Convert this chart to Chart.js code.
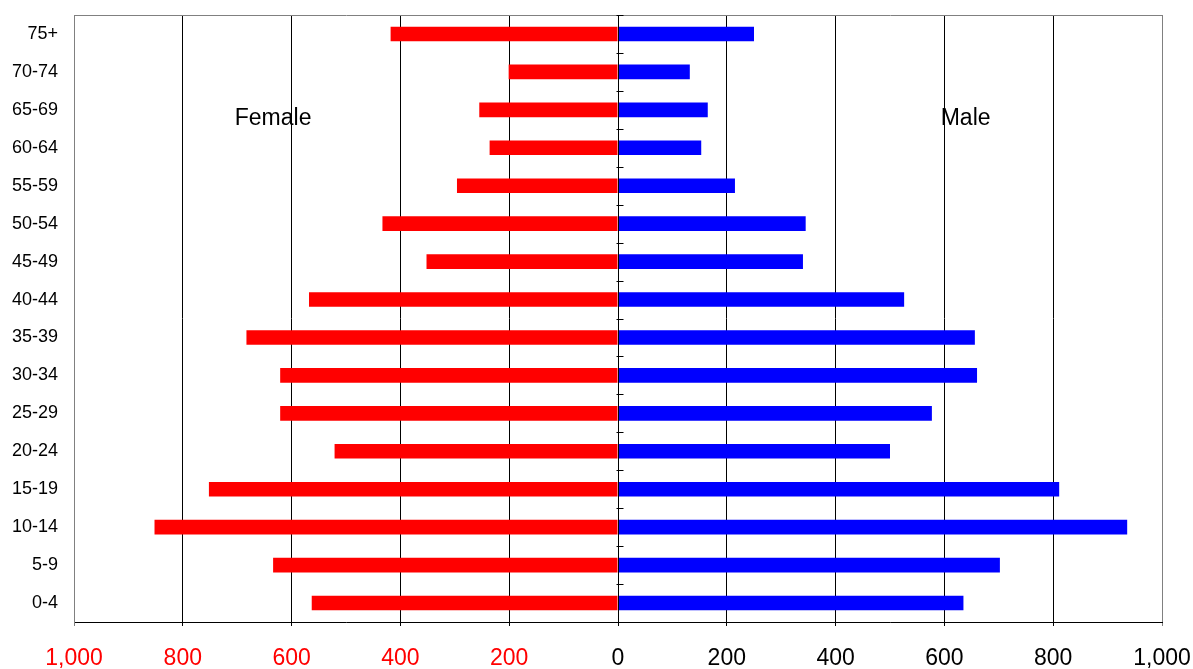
<!DOCTYPE html>
<html>
<head>
<meta charset="utf-8">
<title>Population pyramid</title>
<script src="https://cdn.jsdelivr.net/npm/chart.js@4/dist/chart.umd.min.js"></script>
<style>
  html, body { margin: 0; padding: 0; background: #ffffff; }
  #wrap { width: 1193px; height: 669px; position: relative; }
</style>
</head>
<body>
<div id="wrap"><canvas id="pyramid" width="1193" height="669"></canvas></div>
<script>
// Age groups, youngest first (drawn bottom to top)
const ageGroups = ['0-4', '5-9', '10-14', '15-19', '20-24', '25-29', '30-34', '35-39',
                   '40-44', '45-49', '50-54', '55-59', '60-64', '65-69', '70-74', '75+'];

// Population counts per age group
const female = [563, 634, 852, 752, 521, 621, 621, 683, 568, 352, 433, 296, 236, 255, 201, 418];
const male   = [635, 702, 936, 811, 500, 577, 660, 656, 526, 340, 345, 215, 153, 165, 132, 250];

// Axis range and tick step for the horizontal scale
const axisMax = 1000;
const axisStep = 200;

const FONT = '"Liberation Sans", Arial, sans-serif';
const BORDER_GREY = '#808080';

// Frame, centre-axis tick marks and the side captions
const pyramidDecor = {
  id: 'pyramidDecor',
  beforeDatasetsDraw(chart) {
    const { ctx, chartArea: a } = chart;
    ctx.save();
    ctx.strokeStyle = BORDER_GREY;
    ctx.lineWidth = 1;
    ctx.beginPath();
    ctx.moveTo(Math.round(a.left) + 0.5, Math.round(a.bottom));
    ctx.lineTo(Math.round(a.left) + 0.5, Math.round(a.top) + 0.5);
    ctx.lineTo(Math.round(a.right) + 0.5, Math.round(a.top) + 0.5);
    ctx.lineTo(Math.round(a.right) + 0.5, Math.round(a.bottom));
    ctx.stroke();
    ctx.restore();
  },
  afterDatasetsDraw(chart) {
    const { ctx } = chart;
    const xs = chart.scales.x, ys = chart.scales.y;
    const x0 = Math.round(xs.getPixelForValue(0)) + 0.5;
    ctx.save();
    // zero axis line
    ctx.strokeStyle = '#000000';
    ctx.lineWidth = 1;
    ctx.beginPath();
    ctx.moveTo(x0, ys.top);
    ctx.lineTo(x0, ys.bottom);
    ctx.stroke();
    // tick marks between age groups on the centre axis
    ctx.beginPath();
    for (let i = 0; i <= ageGroups.length; i++) {
      const y = Math.round(ys.getPixelForValue(i - 0.5)) + 0.5;
      ctx.moveTo(x0 - 2, y);
      ctx.lineTo(x0 + 5, y);
    }
    ctx.stroke();
    // side captions
    ctx.fillStyle = '#000000';
    ctx.font = '23px ' + FONT;
    ctx.textAlign = 'center';
    ctx.textBaseline = 'middle';
    const yCap = ys.getPixelForValue(12.78);
    ctx.fillText('Female', xs.getPixelForValue(-634), yCap);
    ctx.fillText('Male', xs.getPixelForValue(639), yCap);
    ctx.restore();
  }
};

new Chart(document.getElementById('pyramid'), {
  type: 'bar',
  data: {
    labels: ageGroups,
    datasets: [
      {
        label: 'Female',
        data: female.map(v => -v),
        backgroundColor: '#FF0000',
        borderWidth: 0,
        categoryPercentage: 1,
        barPercentage: 0.385
      },
      {
        label: 'Male',
        data: male,
        backgroundColor: '#0000FF',
        borderWidth: 0,
        categoryPercentage: 1,
        barPercentage: 0.385
      }
    ]
  },
  options: {
    indexAxis: 'y',
    responsive: false,
    animation: false,
    events: [],
    layout: { padding: { top: 15, right: 31, left: 0, bottom: 0 } },
    plugins: {
      legend: { display: false },
      tooltip: { enabled: false },
      title: { display: false }
    },
    scales: {
      x: {
        type: 'linear',
        stacked: true,
        min: -axisMax,
        max: axisMax,
        afterFit(scale) {
          scale.height = 47;
          scale.paddingLeft = 0;
          scale.paddingRight = 0;
        },
        ticks: {
          stepSize: axisStep,
          padding: 19,
          maxRotation: 0,
          autoSkip: false,
          font: { family: FONT, size: 23 },
          color: ctx => (ctx.tick && ctx.tick.value < 0) ? '#FF0000' : '#000000',
          callback: v => Math.abs(v).toLocaleString('en-US')
        },
        grid: {
          color: ctx => (ctx.tick && Math.abs(ctx.tick.value) === axisMax) ? BORDER_GREY : '#000000',
          lineWidth: 1,
          drawTicks: true,
          tickLength: 4
        },
        border: { display: true, color: '#000000', width: 1 }
      },
      y: {
        type: 'category',
        stacked: true,
        reverse: true,
        afterFit(scale) {
          scale.width = 74;
          scale.paddingTop = 0;
          scale.paddingBottom = 0;
        },
        ticks: {
          padding: 16,
          autoSkip: false,
          font: { family: FONT, size: 18 },
          color: '#000000'
        },
        grid: { display: false, drawTicks: false },
        border: { display: true, color: BORDER_GREY, width: 1 }
      }
    }
  },
  plugins: [pyramidDecor]
});
</script>
</body>
</html>
